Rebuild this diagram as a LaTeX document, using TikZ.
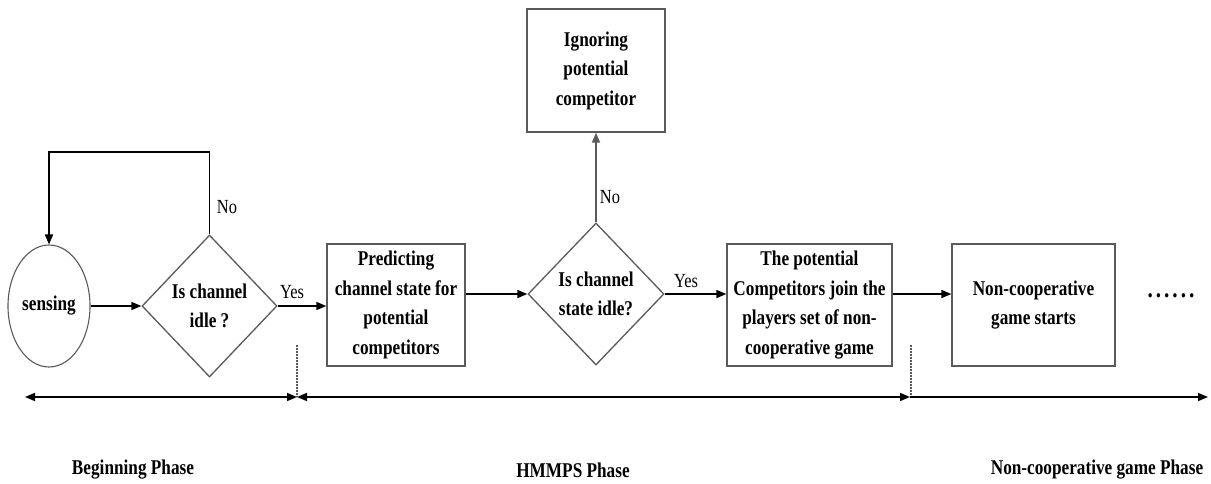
\documentclass[tikz,border=0pt]{standalone}
\usepackage{fontspec}
\setmainfont{Liberation Serif}[FakeStretch=0.82]
\usetikzlibrary{shapes.geometric,arrows.meta,calc}
\definecolor{boxgray}{RGB}{90,90,90}
\tikzset{
  txt/.style={font=\fontsize{21}{29.5}\selectfont\bfseries, align=center},
  procbox/.style={txt, draw=boxgray, line width=1.3pt, rectangle, inner sep=0pt},
  decision/.style={txt, draw=boxgray, line width=1.3pt, diamond, inner sep=0pt, aspect=0.95},
  startnode/.style={txt, draw=boxgray, line width=1.1pt, ellipse, inner sep=0pt},
  arr/.style={line width=1.6pt, -{Triangle[length=10pt,width=8pt]}},
  lbl/.style={font=\fontsize{20}{22}\selectfont, inner sep=0pt},
  phase/.style={font=\fontsize{21}{24}\selectfont\bfseries, inner sep=0pt},
  sep/.style={draw=boxgray, line width=2pt, dash pattern=on 1.5pt off 1.5pt}
}
\begin{document}
\begin{tikzpicture}[x=1pt,y=-1pt]
\useasboundingbox (0,0) rectangle (1211,483);
\fill[white] (0,0) rectangle (1211,483);
% nodes
\node[startnode, minimum width=82pt, minimum height=122pt] (sensing) at (49,306) {sensing};
\node[decision, minimum width=135pt, minimum height=142pt] (d1) at (209.5,306) {Is channel\\idle ?};
\node[procbox, minimum width=138pt, minimum height=122pt] (b1) at (396,305) {Predicting\\channel state for\\potential\\competitors};
\node[decision, minimum width=136pt, minimum height=142pt] (d2) at (596,294) {Is channel\\state idle?};
\node[procbox, minimum width=138pt, minimum height=123pt] (ign) at (596,70.5) {Ignoring\\potential\\competitor};
\node[procbox, minimum width=165pt, minimum height=122pt] (b3) at (809.5,305) {The potential\\Competitors join the\\players set of non-\\cooperative game};
\node[procbox, minimum width=163pt, minimum height=122pt] (b4) at (1033.5,305) {Non-cooperative\\game starts};
\node[txt, font=\fontsize{26}{29}\selectfont\bfseries, inner sep=0pt] (dots) at (1171,296) {\hbox to 47pt{.\hfil.\hfil.\hfil.\hfil.\hfil.}};
% loop
\coordinate (looptop) at (209.5,152);
\draw[arr] (d1.north) -- (looptop) -| (sensing.north);
\node[lbl] (no1) at (227,207) {No};
% main flow
\draw[arr] (sensing.east) -- (d1.west);
\draw[arr] (d1.east) -- (d1.east -| b1.west);
\node[lbl] (yes1) at (292,292) {Yes};
\draw[arr] (b1.east |- d2.west) -- (d2.west);
\draw[arr, draw=boxgray] (d2.north) -- (ign.south);
\node[lbl] (no2) at (610,197) {No};
\draw[arr] (d2.east) -- (d2.east -| b3.west);
\node[lbl] (yes2) at (686,281) {Yes};
\draw[arr] (b3.east |- d2.east) -- (b4.west |- d2.east);
% phase axis
\coordinate (a0) at (25,397);
\coordinate (a1) at (297,397);
\coordinate (a2) at (910,397);
\coordinate (a3) at (1208,397);
\coordinate (s1) at (297,345);
\coordinate (s2) at (911,345);
\draw[sep] (s1) -- (a1);
\draw[sep] (s2) -- (a2 -| s2);
\draw[line width=1.6pt, {Triangle[length=10pt,width=8pt]}-{Triangle[length=10pt,width=8pt]}] (a0) -- (a1);
\draw[line width=1.6pt, {Triangle[length=10pt,width=8pt]}-{Triangle[length=10pt,width=8pt]}] (a1) -- (a2);
\draw[arr] (a2) -- (a3);
\node[phase] (p1) at (133,470) {Beginning Phase};
\node[phase] (p2) at (573,470) {HMMPS Phase};
\node[phase] (p3) at (1097,470) {Non-cooperative game Phase};
\end{tikzpicture}
\end{document}
